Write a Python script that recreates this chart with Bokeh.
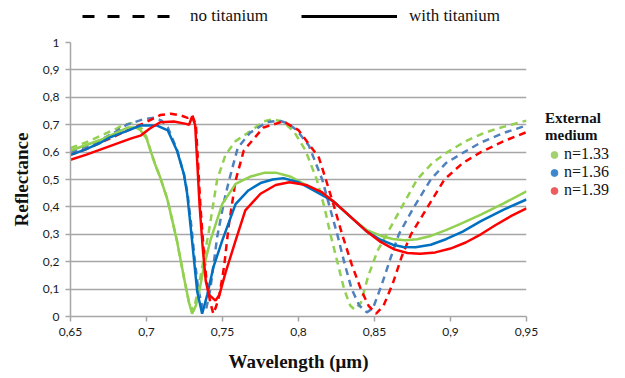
from bokeh.plotting import figure
from bokeh.layouts import column, row
from bokeh.models import (Range1d, FixedTicker, CustomJSTickFormatter, Legend, LegendItem)
from bokeh.embed import file_html
from bokeh.resources import INLINE

# ---------------- data ----------------
g_sol_x = [0.65, 0.66, 0.67, 0.68, 0.688, 0.693, 0.696, 0.70, 0.7026, 0.706, 0.709, 0.7136, 0.717, 0.72, 0.7246,
           0.728, 0.730, 0.7325, 0.735, 0.7377, 0.742, 0.7498, 0.7586, 0.768, 0.778, 0.785, 0.795, 0.805, 0.815,
           0.823, 0.835, 0.845, 0.854, 0.862, 0.870, 0.878, 0.887, 0.897, 0.9066, 0.92, 0.935, 0.95]
g_sol_y = [0.606, 0.625, 0.645, 0.67, 0.69, 0.69, 0.68, 0.65, 0.606, 0.55, 0.508, 0.43, 0.35, 0.277, 0.143,
           0.05, 0.01, 0.04, 0.10, 0.18, 0.277, 0.41, 0.484, 0.51, 0.525, 0.525, 0.51, 0.48, 0.45,
           0.42, 0.36, 0.315, 0.295, 0.283, 0.278, 0.282, 0.294, 0.315, 0.338, 0.372, 0.413, 0.457]
b_sol_x = [0.65, 0.66, 0.67, 0.676, 0.686, 0.696, 0.707, 0.714, 0.72, 0.7246, 0.7267, 0.729, 0.731, 0.7334,
           0.7366, 0.74, 0.744, 0.7498, 0.7586, 0.767, 0.775, 0.783, 0.79, 0.80, 0.81, 0.823, 0.835, 0.845,
           0.854, 0.862, 0.869, 0.877, 0.887, 0.897, 0.908, 0.92, 0.935, 0.95]
b_sol_y = [0.59, 0.61, 0.635, 0.654, 0.675, 0.697, 0.697, 0.679, 0.606, 0.52, 0.45, 0.33, 0.22, 0.09,
           0.01, 0.08, 0.18, 0.277, 0.41, 0.46, 0.487, 0.50, 0.505, 0.49, 0.46, 0.42, 0.36, 0.31,
           0.28, 0.262, 0.254, 0.253, 0.262, 0.282, 0.31, 0.348, 0.39, 0.427]
r_sol_x = [0.65, 0.66, 0.67, 0.68, 0.69, 0.696, 0.702, 0.709, 0.718, 0.726, 0.728, 0.730, 0.732, 0.7335,
           0.735, 0.737, 0.739, 0.741, 0.7454, 0.748, 0.752, 0.7586, 0.765, 0.775, 0.785, 0.794, 0.805,
           0.815, 0.823, 0.835, 0.845, 0.854, 0.863, 0.8716, 0.880, 0.89, 0.90, 0.91, 0.92, 0.93, 0.94, 0.95]
r_sol_y = [0.572, 0.59, 0.61, 0.63, 0.65, 0.66, 0.685, 0.709, 0.712, 0.703, 0.70, 0.73, 0.70, 0.55,
           0.40, 0.25, 0.13, 0.08, 0.058, 0.08, 0.16, 0.277, 0.387, 0.448, 0.48, 0.49, 0.48,
           0.455, 0.42, 0.36, 0.31, 0.272, 0.245, 0.232, 0.229, 0.234, 0.248, 0.27, 0.30, 0.335, 0.367, 0.395]
g_das_x = [0.65, 0.66, 0.67, 0.68, 0.685, 0.69, 0.694, 0.697, 0.70, 0.7026, 0.706, 0.709, 0.7136, 0.717, 0.72,
           0.7246, 0.728, 0.731, 0.735, 0.741, 0.7465, 0.752, 0.7586, 0.768, 0.777, 0.783, 0.79, 0.797,
           0.8046, 0.812, 0.817, 0.821, 0.826, 0.83, 0.834, 0.837, 0.841, 0.846, 0.852, 0.858, 0.868,
           0.878, 0.888, 0.898, 0.91, 0.92, 0.93, 0.94, 0.95]
g_das_y = [0.615, 0.635, 0.66, 0.685, 0.70, 0.705, 0.70, 0.685, 0.655, 0.606, 0.55, 0.508, 0.43, 0.35, 0.277,
           0.143, 0.05, 0.02, 0.13, 0.31, 0.50, 0.59, 0.64, 0.675, 0.712, 0.72, 0.71, 0.675,
           0.606, 0.50, 0.40, 0.30, 0.19, 0.10, 0.04, 0.025, 0.05, 0.15, 0.24, 0.30, 0.40,
           0.50, 0.56, 0.60, 0.64, 0.665, 0.685, 0.70, 0.715]
b_das_x = [0.65, 0.66, 0.67, 0.68, 0.687, 0.698, 0.705, 0.71, 0.714, 0.72, 0.7246, 0.727, 0.7295, 0.7315,
           0.734, 0.737, 0.739, 0.742, 0.7465, 0.751, 0.754, 0.76, 0.768, 0.779, 0.787, 0.793, 0.799,
           0.8068, 0.8156, 0.8205, 0.8255, 0.830, 0.835, 0.840, 0.845, 0.849, 0.855, 0.861, 0.866, 0.876,
           0.887, 0.897, 0.909, 0.92, 0.935, 0.95]
b_das_y = [0.60, 0.62, 0.645, 0.675, 0.70, 0.72, 0.725, 0.715, 0.69, 0.61, 0.52, 0.45, 0.33, 0.22,
           0.10, 0.03, 0.02, 0.10, 0.29, 0.42, 0.49, 0.615, 0.67, 0.709, 0.715, 0.705, 0.679,
           0.624, 0.50, 0.40, 0.30, 0.20, 0.10, 0.04, 0.015, 0.03, 0.12, 0.22, 0.30, 0.40,
           0.50, 0.56, 0.60, 0.635, 0.67, 0.697]
r_das_x = [0.65, 0.66, 0.67, 0.68, 0.69, 0.70, 0.709, 0.716, 0.722, 0.727, 0.730, 0.7325, 0.734, 0.7355,
           0.7375, 0.7395, 0.742, 0.744, 0.746, 0.748, 0.751, 0.754, 0.7586, 0.764, 0.777, 0.79, 0.80,
           0.8134, 0.818, 0.8235, 0.8287, 0.835, 0.841, 0.846, 0.851, 0.856, 0.862, 0.868, 0.874, 0.885,
           0.896, 0.908, 0.92, 0.935, 0.95]
r_das_y = [0.59, 0.61, 0.635, 0.66, 0.685, 0.71, 0.735, 0.74, 0.735, 0.725, 0.735, 0.70, 0.55, 0.40,
           0.25, 0.13, 0.05, 0.01, 0.04, 0.08, 0.18, 0.327, 0.496, 0.606, 0.69, 0.712, 0.68,
           0.58, 0.50, 0.40, 0.30, 0.19, 0.10, 0.04, 0.01, 0.04, 0.12, 0.22, 0.30, 0.40,
           0.50, 0.56, 0.60, 0.64, 0.673]

x_ticks = [0.65, 0.70, 0.75, 0.80, 0.85, 0.90, 0.95]
y_ticks = [0, 0.1, 0.2, 0.3, 0.4, 0.5, 0.6, 0.7, 0.8, 0.9, 1.0]
media = ["n=1.33", "n=1.36", "n=1.39"]
legend_styles = ["no titanium", "with titanium"]

GREEN, BLUE, RED = "#92D050", "#0070C0", "#FF0000"
BLUE_D = "#4F81BD"
MK = ["#A3D16E", "#3C87CD", "#EF5B5B"]
GRID = "#A6A6A6"

# ---------------- main chart ----------------
p = figure(width=545, height=346, output_backend="svg", toolbar_location=None,
           x_range=Range1d(0.65, 0.95), y_range=Range1d(0, 1),
           min_border_left=70, min_border_right=19, min_border_top=10, min_border_bottom=62)
p.outline_line_color = None
p.xgrid.visible = False
p.ygrid.grid_line_color = GRID
p.ygrid.grid_line_width = 1.5
p.ygrid.ticker = FixedTicker(ticks=y_ticks)

fmt = "var v = Math.round(tick*100)/100; return v.toString().replace('.', ',');"
for ax, ticks in ((p.xaxis[0], x_ticks), (p.yaxis[0], y_ticks)):
    ax.ticker = FixedTicker(ticks=ticks)
    ax.formatter = CustomJSTickFormatter(code=fmt)
    ax.axis_line_color = GRID
    ax.axis_line_width = 1.5
    ax.major_tick_line_color = GRID
    ax.major_tick_line_width = 1.5
    ax.major_tick_in = 0
    ax.major_tick_out = 5
    ax.minor_tick_line_color = None
    ax.major_label_text_font = "Lato"
    ax.major_label_text_font_size = "12px"
    ax.major_label_text_color = "#1a1a1a"
    ax.axis_label_text_font = "Liberation Serif"
    ax.axis_label_text_font_style = "bold"
    ax.axis_label_text_font_size = "19px"
    ax.axis_label_text_color = "#111111"
p.xaxis.axis_label = "Wavelength (μm)"
p.yaxis.axis_label = "Reflectance"
p.xaxis.major_label_standoff = 6
p.yaxis.major_label_standoff = 6
p.xaxis.axis_label_standoff = 12
p.yaxis.axis_label_standoff = 8

DASH = "7 5"
LW = 2.5
p.line(g_das_x, g_das_y, line_color=GREEN, line_width=LW, line_dash=DASH)
p.line(b_das_x, b_das_y, line_color=BLUE_D, line_width=LW, line_dash=DASH)
p.line(r_das_x, r_das_y, line_color=RED, line_width=LW, line_dash=DASH)
p.line(g_sol_x, g_sol_y, line_color=GREEN, line_width=LW)
p.line(b_sol_x, b_sol_y, line_color=BLUE, line_width=LW)
p.line(r_sol_x, r_sol_y, line_color=RED, line_width=LW)

# ---------------- top strip: line-style legend ----------------
top = figure(width=625, height=32, output_backend="svg", toolbar_location=None,
             x_axis_type=None, y_axis_type=None, min_border=0,
             x_range=Range1d(0.65, 0.95), y_range=Range1d(0, 1))
top.outline_line_color = None
top.grid.visible = False
rd = top.line(g_das_x, g_das_y, line_color="black", line_width=3, line_dash="12 13", visible=False)
rs = top.line(g_sol_x, g_sol_y, line_color="black", line_width=3, visible=False)
top_leg = Legend(items=[LegendItem(label=legend_styles[0], renderers=[rd]),
                        LegendItem(label=legend_styles[1], renderers=[rs])],
                 orientation="horizontal", location=(82, 6),
                 glyph_width=96, glyph_height=18, label_height=18, label_standoff=12, spacing=33,
                 padding=0, margin=0, inactive_fill_alpha=0,
                 label_text_font="Liberation Serif", label_text_font_size="17px",
                 label_text_color="#111111",
                 border_line_alpha=0, background_fill_alpha=0)
top.add_layout(top_leg, "center")

# ---------------- right strip: external medium legend ----------------
side = figure(width=80, height=346, output_backend="svg", toolbar_location=None,
              x_axis_type=None, y_axis_type=None, min_border=0,
              x_range=Range1d(0.65, 0.95), y_range=Range1d(0, 1))
side.outline_line_color = None
side.grid.visible = False
mk_r = [side.scatter(xs, ys, marker="circle", size=9, fill_color=c, line_color=c, visible=False)
        for c, xs, ys in zip(MK, (g_sol_x, b_sol_x, r_sol_x), (g_sol_y, b_sol_y, r_sol_y))]
side_leg = Legend(items=[LegendItem(label=m, renderers=[r]) for m, r in zip(media, mk_r)],
                  location=(0, 117), title="External\nmedium",
                  title_text_font="Liberation Serif", title_text_font_style="bold",
                  title_text_font_size="15px", title_standoff=1, title_text_color="#111111",
                  glyph_width=18, glyph_height=17, label_height=16, label_standoff=1, spacing=0,
                  padding=0, margin=0, inactive_fill_alpha=0,
                  label_text_font="Liberation Serif", label_text_font_size="16px",
                  label_text_color="#111111",
                  border_line_alpha=0, background_fill_alpha=0)
side.add_layout(side_leg, "center")

layout = column(top, row(p, side))
open("out.html", "w").write(file_html(layout, INLINE))
